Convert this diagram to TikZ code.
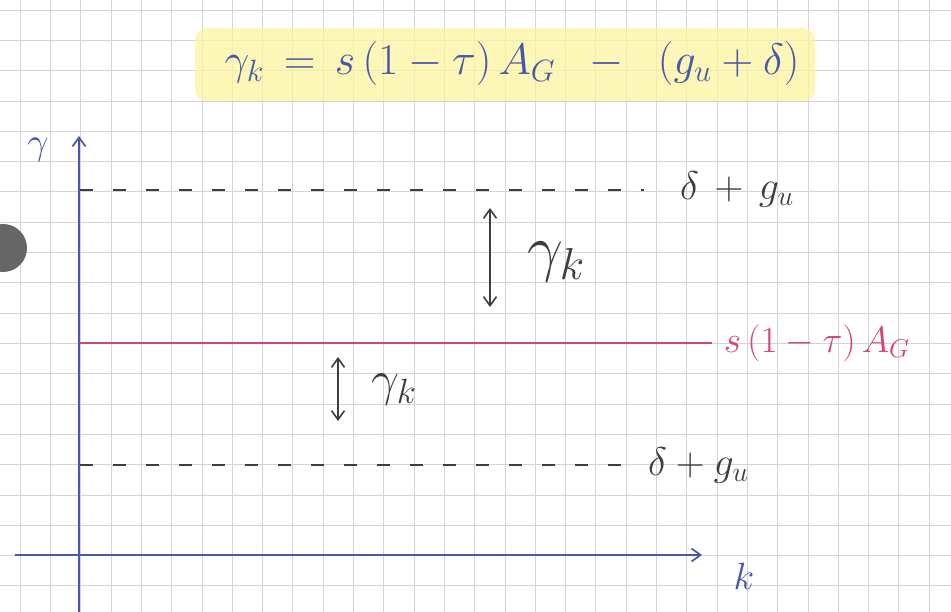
\RequirePackage{fix-cm}
\documentclass[tikz,border=0pt]{standalone}
\usepackage{amsmath,amssymb}
\usepackage{xcolor}
\usetikzlibrary{arrows.meta, positioning}
\definecolor{inkblue}{RGB}{72,86,172}
\definecolor{inkred}{RGB}{208,72,112}
\definecolor{pencil}{RGB}{62,62,66}
\definecolor{marker}{RGB}{252,245,160}
\definecolor{gridgray}{RGB}{212,212,212}

\begin{document}
\begin{tikzpicture}[
    x=1pt, y=-1pt,
    >={Straight Barb[length=9pt, width=13pt]},
    axisline/.style={inkblue, line width=1.7pt},
    levelline/.style={pencil, line width=1.3pt, dash pattern=on 13pt off 20pt},
    redline/.style={inkred, line width=1.1pt},
    gaparrow/.style={<->, pencil, line width=1.6pt},
    titlelbl/.style={font=\fontsize{44}{50}\selectfont, text=inkblue, inner sep=0pt},
    axislbl/.style={font=\fontsize{38}{44}\selectfont, text=inkblue, inner sep=0pt},
    lvllbl/.style={font=\fontsize{40}{46}\selectfont, text=pencil, inner sep=0pt},
    redlbl/.style={font=\fontsize{37}{42}\selectfont, text=inkred, inner sep=0pt},
    gaplbl/.style={text=pencil, inner sep=0pt},
]
\useasboundingbox (0,0) rectangle (951,612);
\fill[white] (0,0) rectangle (951,612);
% squared paper
\foreach \i in {0,...,30}
    \draw[gridgray, line width=0.6pt] ({20+30.3*\i}, 0) -- ({20+30.3*\i}, 612);
\foreach \j in {0,...,19}
    \draw[gridgray, line width=0.6pt] (0, {10+30.3*\j}) -- (951, {10+30.3*\j});
% punched hole
\fill[black!60] (3,248) circle (24);
% highlighted formula
\fill[marker, fill opacity=0.75, rounded corners=12pt] (195,28) rectangle (815,101);
\node[titlelbl] (title) at (512,64)
    {$\gamma_k \,=\, s\,(1-\tau)\,A_G \;\;-\;\; (g_u+\delta)$};
% axes
\coordinate (ybot) at (79,612);
\coordinate (ytop) at (79,136);
\coordinate (xbeg) at (15,555);
\coordinate (xend) at (702,555);
\draw[axisline, ->] (ybot) -- (ytop);
\draw[axisline, ->] (xbeg) -- (xend);
\node[axislbl] (ylbl) at (38,150) {$\gamma$};
\node[axislbl] (klbl) at (744,576) {$k$};
% levels
\node[lvllbl, anchor=west] (upper) at (680,190) {$\delta \,+\, g_u$};
\coordinate (upperL) at (80,190);
\draw[levelline, shorten >=36pt] (upperL) -- (upper.west);
\node[redlbl, anchor=west] (level) at (724,343) {$s\,(1-\tau)\,A_G$};
\coordinate (levelL) at (80,343);
\draw[redline, shorten >=12pt] (levelL) -- (level.west);
\node[lvllbl, anchor=west] (lower) at (648,465) {$\delta + g_u$};
\coordinate (lowerL) at (80,465);
\draw[levelline, shorten >=24pt] (lowerL) -- (lower.west);
% gaps
\coordinate (gapAtop) at (490,208);
\coordinate (gapAbot) at (490,307);
\draw[gaparrow] (gapAtop) -- (gapAbot);
\node[gaplbl, font=\fontsize{64}{70}\selectfont] (gapA) at (556,262) {$\gamma_k$};
\coordinate (gapBtop) at (338,357);
\coordinate (gapBbot) at (338,421);
\draw[gaparrow] (gapBtop) -- (gapBbot);
\node[gaplbl, font=\fontsize{50}{56}\selectfont] (gapB) at (394,390) {$\gamma_k$};
\end{tikzpicture}
\end{document}
